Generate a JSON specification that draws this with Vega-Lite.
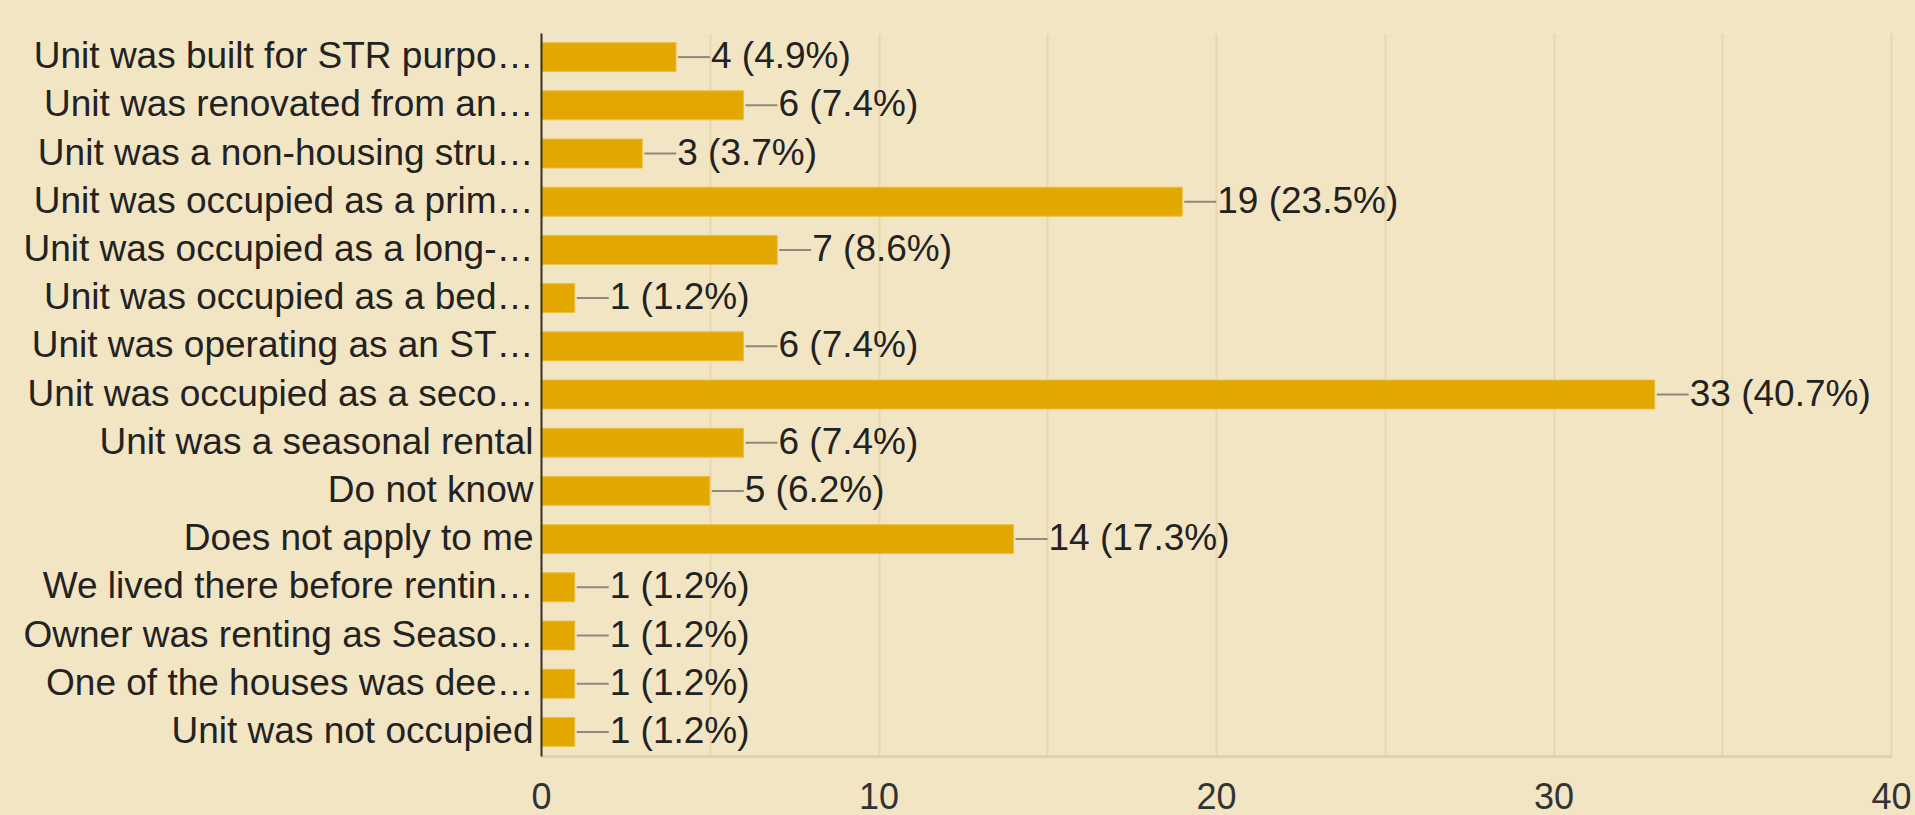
{
  "$schema": "https://vega.github.io/schema/vega-lite/v6.json",
  "autosize": "none",
  "padding": {"left": 541, "top": 33, "right": 24, "bottom": 59},
  "width": 1350,
  "height": 723,
  "background": "#F2E5C3",
  "config": {
    "view": {"stroke": "#F4EAD0", "strokeWidth": 1},
    "font": "Liberation Sans"
  },
  "data": {
    "values": [
      {"answer": "Unit was built for STR purpo…", "count": 4, "label": "4 (4.9%)"},
      {"answer": "Unit was renovated from an…", "count": 6, "label": "6 (7.4%)"},
      {"answer": "Unit was a non-housing stru…", "count": 3, "label": "3 (3.7%)"},
      {"answer": "Unit was occupied as a prim…", "count": 19, "label": "19 (23.5%)"},
      {"answer": "Unit was occupied as a long-…", "count": 7, "label": "7 (8.6%)"},
      {"answer": "Unit was occupied as a bed…", "count": 1, "label": "1 (1.2%)"},
      {"answer": "Unit was operating as an ST…", "count": 6, "label": "6 (7.4%)"},
      {"answer": "Unit was occupied as a seco…", "count": 33, "label": "33 (40.7%)"},
      {"answer": "Unit was a seasonal rental", "count": 6, "label": "6 (7.4%)"},
      {"answer": "Do not know", "count": 5, "label": "5 (6.2%)"},
      {"answer": "Does not apply to me", "count": 14, "label": "14 (17.3%)"},
      {"answer": "We lived there before rentin…", "count": 1, "label": "1 (1.2%)"},
      {"answer": "Owner was renting as Seaso…", "count": 1, "label": "1 (1.2%)"},
      {"answer": "One of the houses was dee…", "count": 1, "label": "1 (1.2%)"},
      {"answer": "Unit was not occupied", "count": 1, "label": "1 (1.2%)"}
    ]
  },
  "encoding": {
    "y": {
      "field": "answer",
      "type": "nominal",
      "sort": null,
      "scale": {"paddingInner": 0.4, "paddingOuter": 0.2},
      "axis": {
        "title": null,
        "ticks": false,
        "labelFontSize": 37,
        "labelColor": "#222222",
        "labelPadding": 8,
        "labelLimit": 0,
        "domainColor": "#333333",
        "domainWidth": 2,
        "zindex": 2
      }
    }
  },
  "layer": [
    {
      "mark": {"type": "bar", "color": "#E3A800", "stroke": "#EBBE45", "strokeWidth": 1},
      "encoding": {
        "x": {
          "field": "count",
          "type": "quantitative",
          "scale": {"domain": [0, 40], "nice": false},
          "axis": {
            "title": null,
            "values": [0, 5, 10, 15, 20, 25, 30, 35, 40],
            "labelExpr": "datum.value % 10 === 0 ? datum.label : ''",
            "ticks": false,
            "labelFontSize": 36,
            "labelColor": "#333333",
            "labelPadding": 24,
            "labelFlush": false,
            "gridColor": "#E6D7AF",
            "gridWidth": 2,
            "domainColor": "#E2D2A6",
            "domainWidth": 3
          }
        }
      }
    },
    {
      "mark": {"type": "rule", "x2Offset": 34, "xOffset": 2, "color": "#8C8A7E", "strokeWidth": 2},
      "encoding": {
        "x": {"field": "count", "type": "quantitative"},
        "x2": {"field": "count"}
      }
    },
    {
      "mark": {"type": "text", "align": "left", "baseline": "middle", "dx": 35, "fontSize": 37, "color": "#222222"},
      "encoding": {
        "x": {"field": "count", "type": "quantitative"},
        "text": {"field": "label"}
      }
    }
  ]
}
